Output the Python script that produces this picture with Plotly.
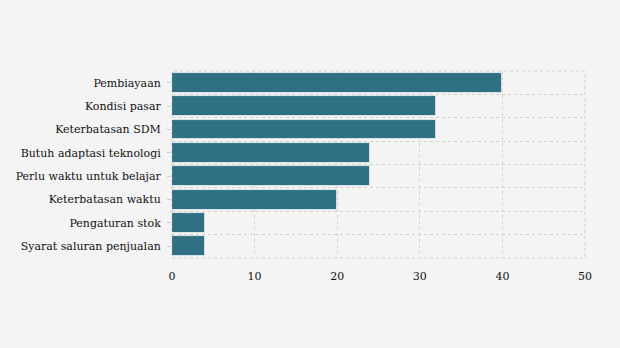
import plotly.graph_objects as go

categories = ["Pembiayaan", "Kondisi pasar", "Keterbatasan SDM", "Butuh adaptasi teknologi",
              "Perlu waktu untuk belajar", "Keterbatasan waktu", "Pengaturan stok",
              "Syarat saluran penjualan"]
values = [40, 32, 32, 24, 24, 20, 4, 4]
x_ticks = [0, 10, 20, 30, 40, 50]

positions = list(range(len(categories)))
boundaries = [p - 0.5 for p in positions] + [positions[-1] + 0.5]

fig = go.Figure(go.Bar(
    x=values, y=positions, orientation="h", width=0.85,
    marker=dict(color="#2f7084", line=dict(color="#f4f4f4", width=0.8)),
    hoverinfo="skip",
))

grid_color = "#d0d0d0"
fig.update_layout(
    width=620, height=348,
    margin=dict(l=172, r=35, t=71, b=90),
    paper_bgcolor="#f4f4f4", plot_bgcolor="#f4f4f4",
    font=dict(family="DejaVu Serif", size=11, color="#000000"),
    showlegend=False,
    bargap=0,
    shapes=[dict(type="rect", xref="paper", yref="paper", x0=0, x1=1, y0=0, y1=1,
                 line=dict(color=grid_color, width=1.2, dash="dot"), layer="below")],
)
fig.update_xaxes(
    range=[0, 50], tickvals=x_ticks, showgrid=True, gridcolor=grid_color,
    griddash="dot", gridwidth=1.2, zeroline=False, showline=False,
    ticks="", ticklabelstandoff=10, tickfont=dict(color="#111111"),
)
fig.update_yaxes(
    range=[positions[-1] + 0.5, -0.5], tickvals=positions, ticktext=categories,
    showgrid=False, zeroline=False, showline=False,
    ticks="outside", ticklen=4, tickcolor="#cccccc", ticklabelstandoff=4,
    tickfont=dict(color="#111111"),
    minor=dict(tickvals=boundaries, showgrid=True, gridcolor=grid_color,
               griddash="dot", gridwidth=1.2, ticks=""),
)
fig.write_html("out.html")
